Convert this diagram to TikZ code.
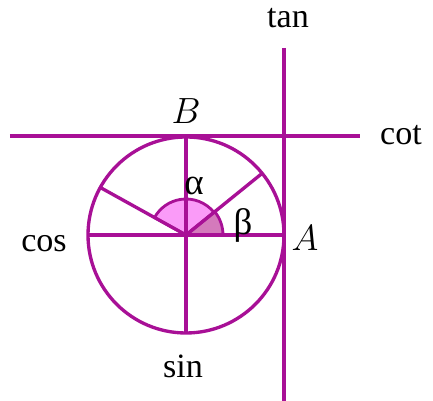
\documentclass[tikz,border=0pt]{standalone}
\usepackage{fontspec}
\setmainfont{Liberation Serif}
\usetikzlibrary{positioning}
\definecolor{mymag}{RGB}{168,16,150}
\definecolor{mypink}{RGB}{250,155,248}
\definecolor{mymauve}{RGB}{212,122,188}
\tikzset{
  axis/.style={draw=mymag, line width=1.9pt},
  sector/.style={draw=mymag, line width=1.6pt},
  lbl/.style={inner sep=0pt, font=\fontsize{19.4}{22}\selectfont},
  greek/.style={inner sep=0pt, font=\fontsize{21}{24}\selectfont}
}

\begin{document}
\begin{tikzpicture}[x=0.02cm, y=0.02cm]
  \useasboundingbox (-186,-166) rectangle (247,235);
  \coordinate (O) at (0,0);

  % angle sectors
  \filldraw[sector, fill=mypink] (O) -- (39:36) arc (39:151:36) -- cycle;
  \filldraw[sector, fill=mymauve] (O) -- (0:37) arc (0:39:37) -- cycle;

  % points on the circle
  \coordinate (A) at (0:98);
  \coordinate (B) at (90:98);
  \coordinate (C) at (180:98);
  \coordinate (D) at (270:98);
  \coordinate (P) at (39:98);
  \coordinate (Q) at (151:98);

  % circle and radii
  \draw[axis] (O) circle [radius=98];
  \draw[axis] (C) -- (A);
  \draw[axis] (D) -- (B);
  \draw[axis] (O) -- (P);
  \draw[axis] (O) -- (Q);

  % tangent lines
  \coordinate (cotL) at (-176,99);
  \coordinate (cotR) at (174,99);
  \coordinate (tanT) at (98,187);
  \coordinate (tanB) at (98,-166);
  \draw[axis] (cotL) -- (cotR);
  \draw[axis] (tanT) -- (tanB);

  % labels
  \node[lbl] (tanlbl) at (102,217) {tan};
  \node[lbl] (cotlbl) at (215,100) {cot};
  \node[lbl] (Blbl) at (0,124) {$B$};
  \node[lbl] (coslbl) at (-142,-9) {cos};
  \node[lbl] (Albl) at (119,-3) {$A$};
  \node[lbl] (sinlbl) at (-3,-131) {sin};
  \node[greek] (alpha) at (8,49) {α};
  \node[greek] (beta) at (57,10) {β};
\end{tikzpicture}
\end{document}
